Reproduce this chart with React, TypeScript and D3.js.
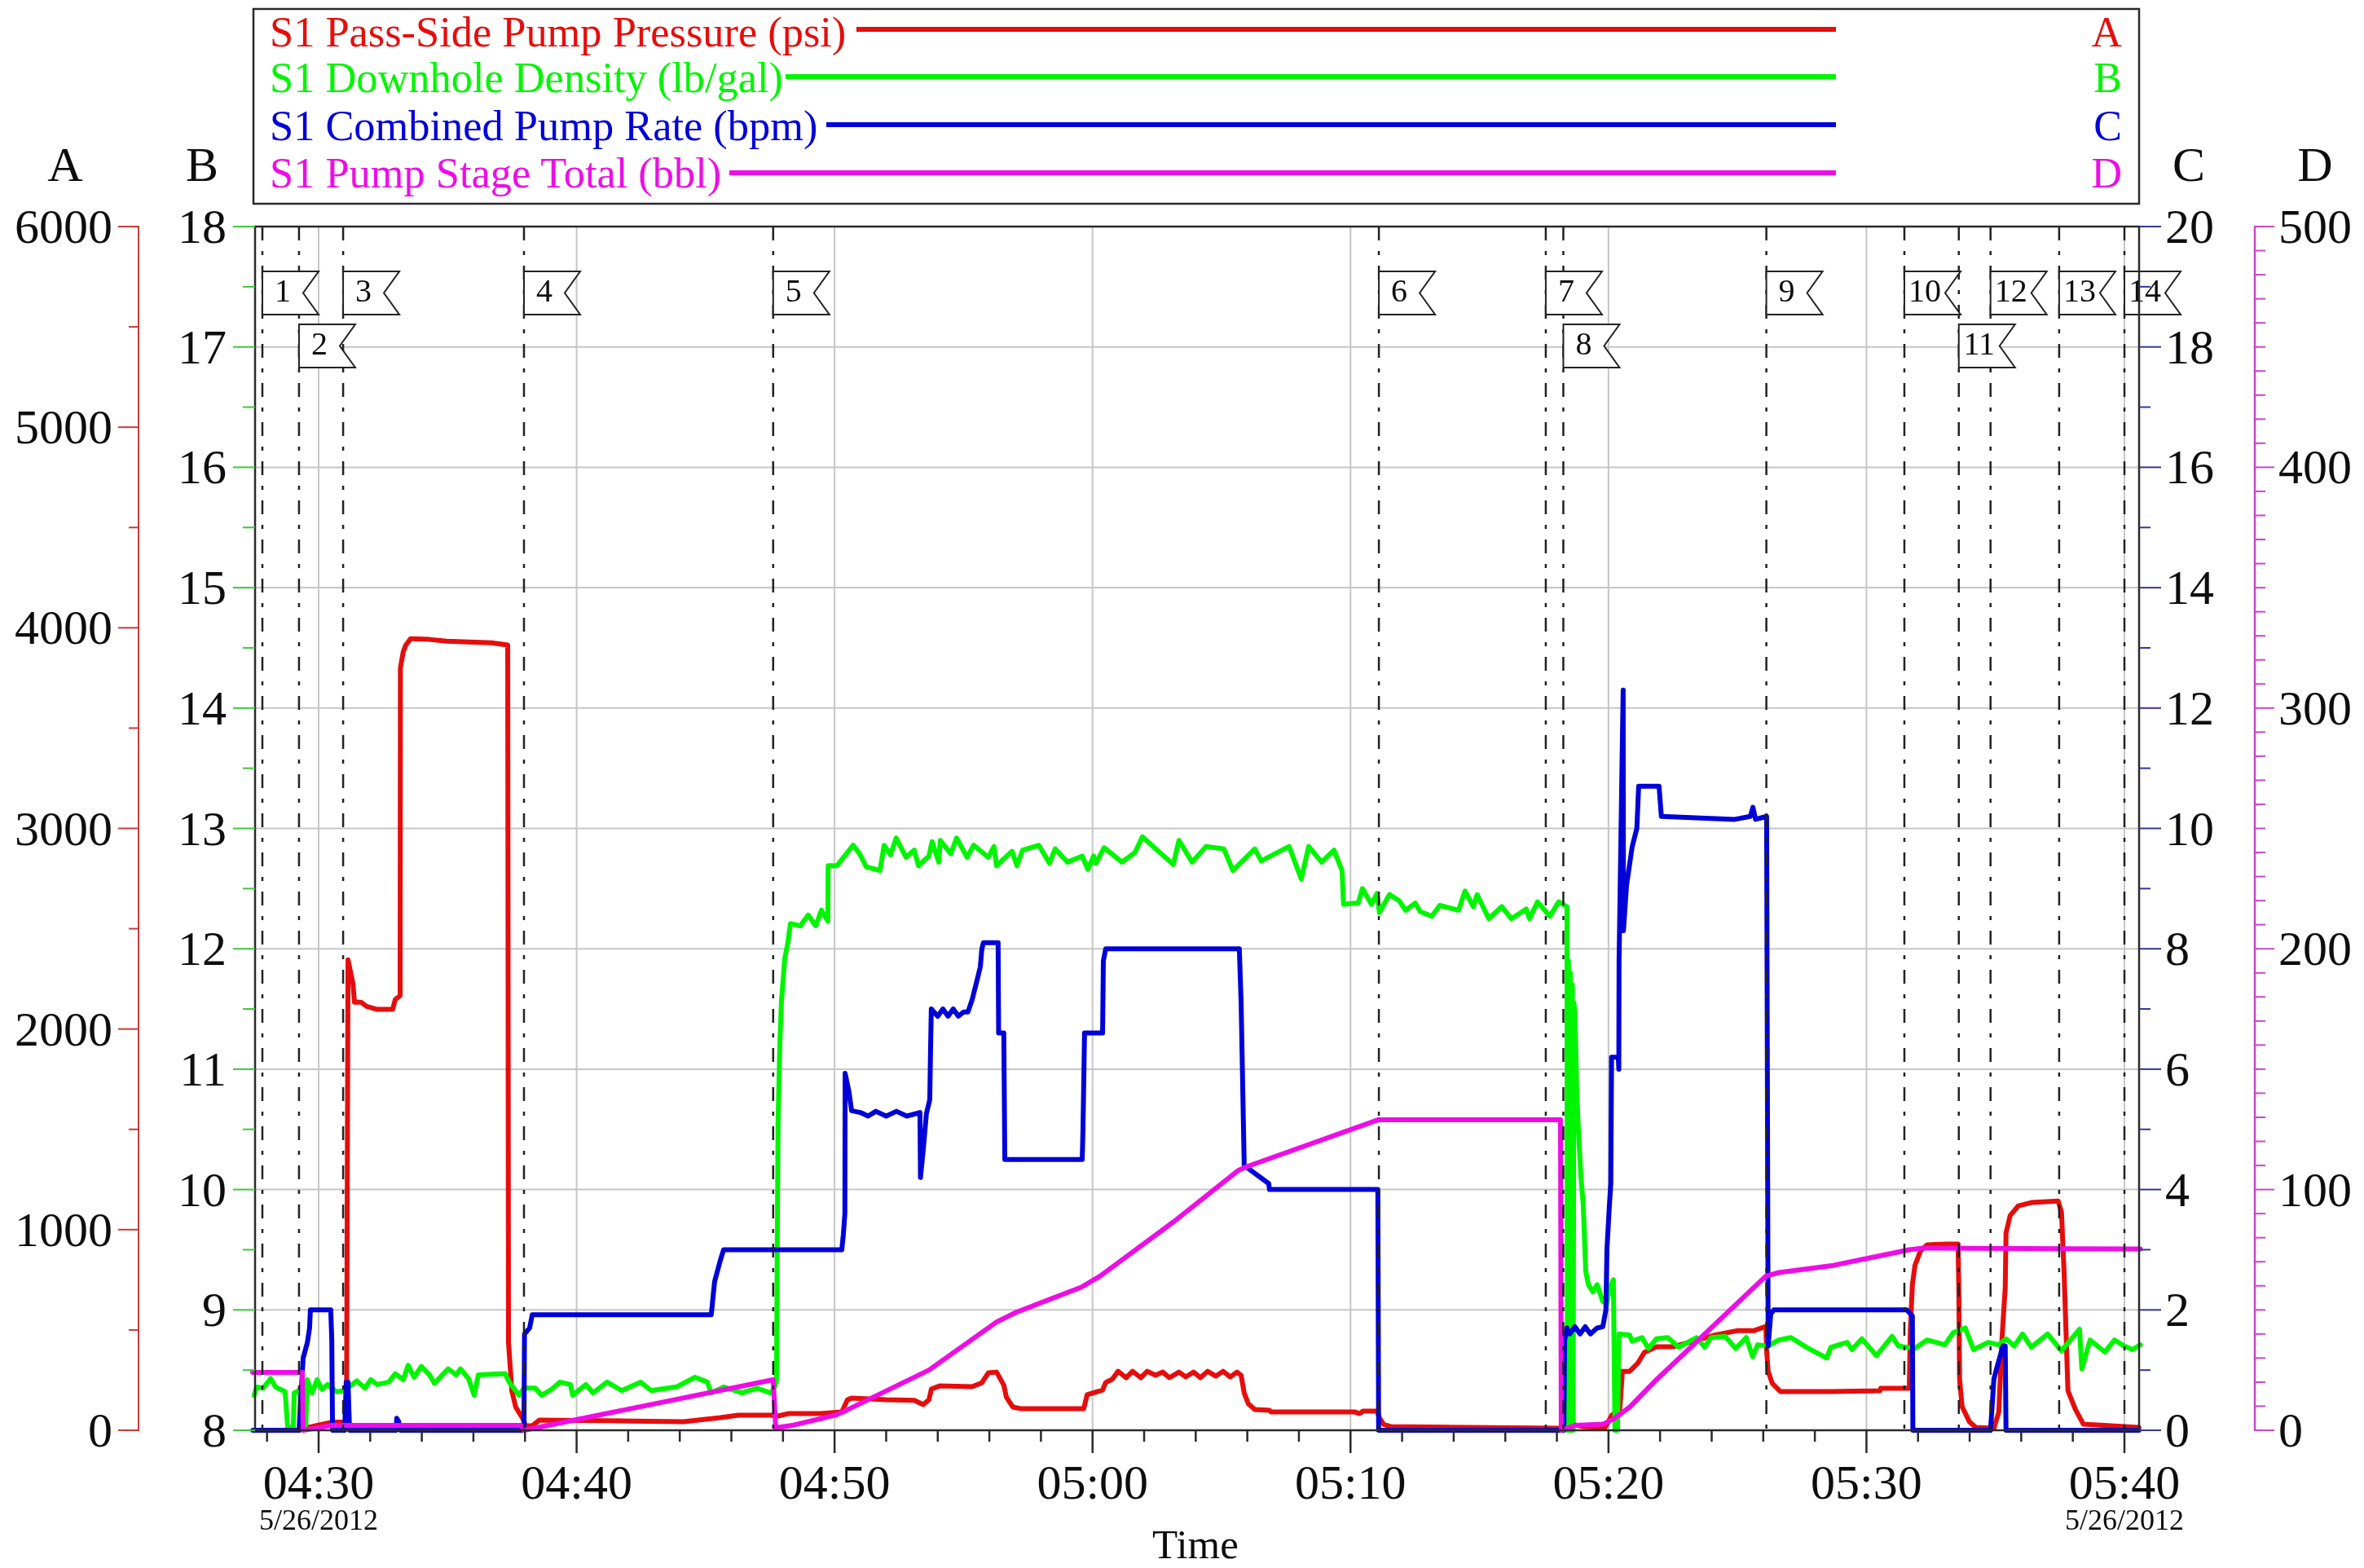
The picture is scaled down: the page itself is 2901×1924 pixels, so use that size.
import React from "react";
import * as d3 from "d3";

// time in minutes after 04:30, then value
const pressureTimes = [-0.76,-0.4,0.5,1.08,1.14,1.33,1.39,1.64,1.86,2.27,2.87,2.97,3.16,3.17,3.28,3.38,3.57,4.3,4.96,6.7,7.33,7.36,7.49,7.64,7.93,8.02,8.28,8.56,14.15,15.57,16.27,17.53,17.81,18.19,19.46,20.28,20.5,20.66,21.98,23.09,23.44,23.66,23.75,24.07,25.33,25.71,25.96,26.28,26.56,26.66,26.91,27.2,29.66,29.79,30.39,30.51,30.76,30.99,31.3,31.55,31.87,32.12,32.44,32.72,32.98,33.35,33.61,33.92,34.18,34.46,34.78,35.06,35.34,35.6,35.76,35.88,36.04,36.29,36.86,36.92,40.18,40.34,40.49,41.03,41.12,41.28,41.57,48.14,48.61,49.02,49.87,50.13,50.44,50.54,50.82,51.14,51.39,51.86,52.5,54.08,55.02,55.65,56.1,56.13,56.19,56.35,56.66,58.62,60.52,60.55,61.66,61.7,61.78,61.88,62.1,62.35,63.14,63.55,63.58,63.61,63.71,63.99,64.24,64.94,65.13,65.26,65.38,65.41,65.57,65.89,66.39,67.43,67.56,67.66,67.81,68.1,68.41,70.56];
const pressureValues = [0,15,40,42,2345,2227,2134,2134,2113,2098,2098,2147,2167,3800,3880,3914,3946,3942,3933,3925,3914,437,197,116,55,22,22,51,43,63,75,75,71,83,83,91,152,160,152,149,128,152,205,221,217,237,286,290,225,165,116,108,108,177,201,238,254,294,262,294,262,294,274,290,262,290,266,290,262,294,270,294,266,290,274,185,132,104,100,91,91,83,95,95,63,30,18,10,30,18,14,75,104,294,294,335,388,416,416,473,497,497,518,400,294,233,193,193,197,209,209,497,725,822,895,924,928,928,713,254,116,43,14,10,91,469,713,983,1070,1119,1135,1143,1087,794,197,104,30,14,10];

const densityTimes = [-2.5,-2.4,-2.15,-1.86,-1.67,-1.3,-1.2,-0.98,-0.95,-0.76,-0.5,-0.44,-0.25,-0.06,0.13,0.35,0.69,1.01,1.48,1.8,2.02,2.27,2.72,2.97,3.28,3.47,3.7,3.98,4.3,4.49,5.02,5.34,5.5,5.81,6.03,6.19,7.23,7.39,7.77,7.96,8.4,8.65,9.03,9.35,9.76,9.85,10.36,10.64,11.18,11.75,12.48,12.89,13.87,14.59,15.07,15.22,15.7,16.42,16.99,17.53,17.66,17.75,17.78,17.81,17.88,17.94,18.07,18.19,18.29,18.67,18.98,19.27,19.49,19.74,19.75,20.09,20.72,20.97,21.23,21.76,21.92,22.17,22.39,22.77,23.09,23.25,23.66,23.78,24.04,24.1,24.51,24.73,25.14,25.39,25.96,26.18,26.28,26.88,27.07,27.29,27.92,28.33,28.55,29.03,29.6,29.82,30.04,30.13,30.45,31.14,31.65,31.93,32.5,33.13,33.35,33.86,34.4,35.09,35.44,36.29,36.54,37.62,38.09,38.38,38.88,39.36,39.67,39.73,40.3,40.46,40.81,41.03,41.12,41.51,41.88,42.14,42.51,42.7,43.15,43.46,44.19,44.44,44.76,44.91,45.36,45.86,46.24,46.81,46.94,47.25,47.73,48.07,48.39,48.41,48.45,48.48,48.52,48.55,48.6,48.63,48.66,48.7,48.77,48.83,48.93,49.02,49.12,49.22,49.4,49.56,49.78,49.94,50.03,50.19,50.25,50.35,50.41,50.82,50.92,51.3,51.55,51.86,52.3,52.72,53.41,53.73,53.98,54.52,54.93,55.34,55.59,55.78,56.19,56.6,57.07,57.67,58.46,58.62,59.25,59.44,59.82,60.39,60.99,61.24,61.88,62.35,63.04,63.36,63.83,64.15,64.72,65.13,65.41,65.73,66.05,66.39,67.02,67.56,68.26,68.35,68.67,69.24,69.62,69.99,70.31,70.62];
const densityValues = [8.29,8.36,8.35,8.43,8.36,8.32,8.03,8.02,8.31,8.33,8.04,8.42,8.31,8.42,8.34,8.38,8.32,8.33,8.41,8.35,8.42,8.38,8.4,8.47,8.42,8.54,8.44,8.53,8.46,8.39,8.51,8.46,8.51,8.43,8.29,8.46,8.47,8.4,8.29,8.35,8.35,8.29,8.34,8.4,8.38,8.29,8.38,8.31,8.4,8.33,8.4,8.33,8.36,8.44,8.4,8.31,8.36,8.31,8.35,8.31,8.35,8.41,9.59,10.56,11.22,11.56,11.92,12.05,12.21,12.19,12.28,12.19,12.32,12.23,12.69,12.69,12.86,12.79,12.68,12.65,12.86,12.78,12.92,12.76,12.82,12.69,12.77,12.89,12.72,12.9,12.79,12.92,12.76,12.86,12.76,12.85,12.69,12.81,12.69,12.82,12.86,12.71,12.83,12.72,12.77,12.66,12.77,12.71,12.84,12.72,12.8,12.93,12.82,12.7,12.9,12.72,12.85,12.83,12.65,12.83,12.73,12.85,12.58,12.85,12.72,12.82,12.65,12.37,12.38,12.5,12.37,12.46,12.3,12.45,12.4,12.32,12.38,12.31,12.27,12.36,12.32,12.48,12.35,12.45,12.25,12.35,12.25,12.33,12.25,12.39,12.27,12.39,12.35,8.0,11.9,8.0,11.8,8.0,11.7,8.0,11.55,11.47,10.81,10.52,10.11,9.88,9.32,9.21,9.15,9.21,9.07,9.05,9.17,9.25,8.0,8.0,8.8,8.79,8.74,8.77,8.68,8.76,8.77,8.69,8.77,8.69,8.77,8.78,8.68,8.77,8.61,8.71,8.7,8.75,8.77,8.69,8.6,8.69,8.73,8.67,8.76,8.62,8.78,8.7,8.68,8.75,8.71,8.81,8.85,8.67,8.73,8.71,8.76,8.7,8.8,8.69,8.8,8.66,8.84,8.51,8.75,8.65,8.75,8.7,8.67,8.71];

const rateTimes = [-2.55,-0.76,-0.6,-0.44,-0.35,-0.32,0.47,0.51,0.54,1.01,1.07,1.14,1.2,3.0,3.03,3.1,3.16,7.96,7.98,8.18,8.28,15.22,15.35,15.57,15.7,20.28,20.34,20.4,20.41,20.56,20.66,21.0,21.3,21.6,22.0,22.4,22.8,23.31,23.33,23.44,23.56,23.69,23.72,23.75,24.0,24.2,24.4,24.6,24.8,25.0,25.17,25.33,25.49,25.65,25.71,25.77,26.34,26.36,26.56,26.6,29.6,29.63,29.69,30.39,30.42,30.51,35.69,35.76,35.88,36.83,36.86,41.06,41.09,48.27,48.3,48.39,48.5,48.7,48.9,49.1,49.3,49.56,49.78,49.9,49.94,50.03,50.09,50.12,50.38,50.4,50.41,50.54,50.57,50.58,50.7,50.92,51.1,51.17,51.96,52.05,54.9,55.5,55.6,55.7,56.13,56.19,56.29,56.41,61.56,61.78,61.8,64.81,64.94,65.03,65.29,65.38,65.41,70.56];
const rateValues = [0,0,1.2,1.45,1.7,2,2,1.5,0,0,0.8,0.8,0,0,0.2,0.15,0,0,1.6,1.7,1.92,1.92,2.47,2.82,3,3,3.25,3.6,5.93,5.62,5.31,5.28,5.22,5.3,5.22,5.3,5.22,5.28,4.2,4.67,5.26,5.49,6.3,7,6.88,7,6.88,7,6.88,6.95,6.95,7.15,7.42,7.7,8,8.1,8.1,6.6,6.6,4.5,4.5,5,6.6,6.6,7.8,8,8,7.1,4.4,4.1,4,4,0,0,1.5,1.7,1.6,1.72,1.6,1.72,1.6,1.7,1.72,2,3,3.7,4.1,6.2,6.2,6,7.8,11.5,12.3,8.3,9.05,9.7,10,10.7,10.7,10.2,10.15,10.2,10.35,10.15,10.2,1.4,1.93,2,2,1.9,0,0,0.85,1,1.4,1.4,0,0];

const totalTimes = [-2.56,-0.63,-0.6,0.51,7.86,7.96,17.62,17.72,18.35,20.03,20.4,23.66,26.28,27.04,29.56,30.29,33.13,35.66,35.98,41.09,48.14,48.17,48.7,49.78,50.19,50.82,51.86,56.1,56.6,58.72,61.66,62.19,70.62];
const totalValues = [24,24,0,2,2,0,21,1,2,6.3,8,25,45,49,59.4,64,86.5,108,109.5,129,129,0,2,2.5,4.6,9.6,21,64,65.5,68.5,75,75.7,75.3];

const eventTimes = [-2.18,-0.76,0.95,7.96,17.62,41.1,47.57,48.25,56.12,61.47,63.58,64.81,67.47,70.0];
const eventLabels = ["1","2","3","4","5","6","7","8","9","10","11","12","13","14"];
const eventRows = [0,1,0,0,0,0,0,1,0,0,1,0,0,0];

const timeTicks = [0,10,20,30,40,50,60,70];
const timeLabels = ["04:30","04:40","04:50","05:00","05:10","05:20","05:30","05:40"];
const dateLabel = "5/26/2012";

const legendNames = ["S1 Pass-Side Pump Pressure (psi)","S1 Downhole Density (lb/gal)","S1 Combined Pump Rate (bpm)","S1 Pump Stage Total (bbl)"];
const legendKeys = ["A","B","C","D"];
const seriesColors = ["#e60a0a","#00f500","#0000d8","#ee10e6"];
const legendLineStart = [1051,964,1014,895];
const legendBaselines = [57,113,172,230];
const legendLineY = [36,94,153,212];

const W = 2901, H = 1924;
const left = 313, right = 2625, top = 278, bottom = 1755;
const FONT = "'Liberation Serif', 'Times New Roman', serif";
const GRID = "#c6c6c6", INK = "#2a2a2a";

const x = d3.scaleLinear().domain([0, 70]).range([391, 2607]);
const yA = d3.scaleLinear().domain([0, 6000]).range([bottom, top]);
const yB = d3.scaleLinear().domain([8, 18]).range([bottom, top]);
const yC = d3.scaleLinear().domain([0, 20]).range([bottom, top]);
const yD = d3.scaleLinear().domain([0, 500]).range([bottom, top]);

const pathOf = (ts: number[], vs: number[], y: d3.ScaleLinear<number, number>) =>
  d3.line<number>().x((t) => x(t)).y((_, i) => y(vs[i]))(ts) as string;

const series = [
  { d: pathOf(pressureTimes, pressureValues, yA), c: seriesColors[0] },
  { d: pathOf(densityTimes, densityValues, yB), c: seriesColors[1] },
  { d: pathOf(rateTimes, rateValues, yC), c: seriesColors[2] },
  { d: pathOf(totalTimes, totalValues, yD), c: seriesColors[3] },
];

export default function App() {
  const AXA = "#c83a3a", AXB = "#3cc83c", AXC = "#34349c", AXD = "#c846c8";
  const TS = 60;
  return (
    <svg width={W} height={H} viewBox={`0 0 ${W} ${H}`} style={{ position: "absolute", left: 0, top: 0, display: "block", background: "#fff" }} fontFamily={FONT}>
      <defs>
        <filter id="soft" x="0" y="0" width="100%" height="100%" filterUnits="userSpaceOnUse" primitiveUnits="userSpaceOnUse">
          <feGaussianBlur stdDeviation="0.7" />
        </filter>
      </defs>
      <g filter="url(#soft)">
      <rect x={0} y={0} width={W} height={H} fill="#fff" />
      {/* grid */}
      {yB.ticks(10).map((v) => <line key={v} x1={left} x2={right} y1={yB(v)} y2={yB(v)} stroke={GRID} strokeWidth={2} />)}
      {timeTicks.map((t) => <line key={t} x1={x(t)} x2={x(t)} y1={top} y2={bottom} stroke={GRID} strokeWidth={2} />)}

      {/* series */}
      {series.map((s, i) => <path key={i} d={s.d} fill="none" stroke={s.c} strokeWidth={6} strokeLinejoin="round" strokeLinecap="round" />)}

      {/* events */}
      {eventTimes.map((t, i) => <line key={i} x1={x(t)} x2={x(t)} y1={top} y2={bottom} stroke="#222" strokeWidth={2.5} strokeDasharray="17,13,5,13" />)}
      {eventTimes.map((t, i) => {
        const fx = x(t), fy = eventRows[i] ? 398 : 333, fw = 69, fh = 53, n = 19;
        return (
          <g key={i}>
            <path d={`M${fx},${fy}H${fx + fw}L${fx + fw - n},${fy + fh / 2}L${fx + fw},${fy + fh}H${fx}Z`} fill="#fff" stroke="#222" strokeWidth={2} />
            <text x={fx + 25} y={fy + 37} fontSize={40} textAnchor="middle" fill="#111">{eventLabels[i]}</text>
          </g>
        );
      })}

      {/* frame */}
      <rect x={left} y={top} width={right - left} height={bottom - top} fill="none" stroke={INK} strokeWidth={2.5} />

      {/* axis A */}
      <line x1={170} x2={170} y1={top} y2={bottom} stroke={AXA} strokeWidth={2} />
      {d3.range(0, 6001, 500).map((v) => <line key={v} x1={v % 1000 === 0 ? 145 : 158} x2={171} y1={yA(v)} y2={yA(v)} stroke={AXA} strokeWidth={2} />)}
      {yA.ticks(6).map((v) => <text key={v} x={138} y={yA(v) + 20} fontSize={TS} textAnchor="end" fill="#111">{v}</text>)}
      <text x={80} y={222} fontSize={TS} textAnchor="middle" fill="#111">A</text>

      {/* axis B */}
      {d3.range(8, 18.01, 0.5).map((v) => <line key={v} x1={v % 1 === 0 ? 286 : 298} x2={left} y1={yB(v)} y2={yB(v)} stroke={AXB} strokeWidth={2} />)}
      {yB.ticks(10).map((v) => <text key={v} x={278} y={yB(v) + 20} fontSize={TS} textAnchor="end" fill="#111">{v}</text>)}
      <text x={248} y={222} fontSize={TS} textAnchor="middle" fill="#111">B</text>

      {/* axis C */}
      {d3.range(0, 21, 1).map((v) => <line key={v} x1={right} x2={v % 2 === 0 ? 2652 : 2639} y1={yC(v)} y2={yC(v)} stroke={AXC} strokeWidth={2} />)}
      {yC.ticks(10).map((v) => <text key={v} x={2657} y={yC(v) + 20} fontSize={TS} fill="#111">{v}</text>)}
      <text x={2686} y={222} fontSize={TS} textAnchor="middle" fill="#111">C</text>

      {/* axis D */}
      <line x1={2767} x2={2767} y1={top} y2={bottom} stroke={AXD} strokeWidth={2.5} />
      {d3.range(0, 501, 10).map((v) => <line key={v} x1={2766} x2={v % 100 === 0 ? 2791 : 2780} y1={yD(v)} y2={yD(v)} stroke={AXD} strokeWidth={2} />)}
      {yD.ticks(5).map((v) => <text key={v} x={2796} y={yD(v) + 20} fontSize={TS} fill="#111">{v}</text>)}
      <text x={2841} y={222} fontSize={TS} textAnchor="middle" fill="#111">D</text>

      {/* time axis */}
      {d3.range(-2, 71, 2).map((t) => <line key={t} x1={x(t)} x2={x(t)} y1={bottom} y2={bottom + (t % 10 === 0 ? 28 : 14)} stroke={INK} strokeWidth={2.5} />)}
      {timeTicks.map((t, i) => <text key={t} x={x(t)} y={1839} fontSize={TS} textAnchor="middle" fill="#111">{timeLabels[i]}</text>)}
      <text x={x(0)} y={1877} fontSize={36} textAnchor="middle" fill="#111">{dateLabel}</text>
      <text x={x(70)} y={1877} fontSize={36} textAnchor="middle" fill="#111">{dateLabel}</text>
      <text x={1467} y={1912} fontSize={51} textAnchor="middle" fill="#111">Time</text>

      {/* legend */}
      <rect x={311} y={11} width={2314} height={239} fill="#fff" stroke={INK} strokeWidth={2.5} />
      {legendNames.map((n, i) => (
        <g key={n}>
          <text x={331} y={legendBaselines[i]} fontSize={52.4} fill={seriesColors[i]}>{n}</text>
          <line x1={legendLineStart[i]} x2={2253} y1={legendLineY[i]} y2={legendLineY[i]} stroke={seriesColors[i]} strokeWidth={6} />
          <text x={2604} y={legendBaselines[i]} fontSize={52} textAnchor="end" fill={seriesColors[i]}>{legendKeys[i]}</text>
        </g>
      ))}
      </g>
    </svg>
  );
}
